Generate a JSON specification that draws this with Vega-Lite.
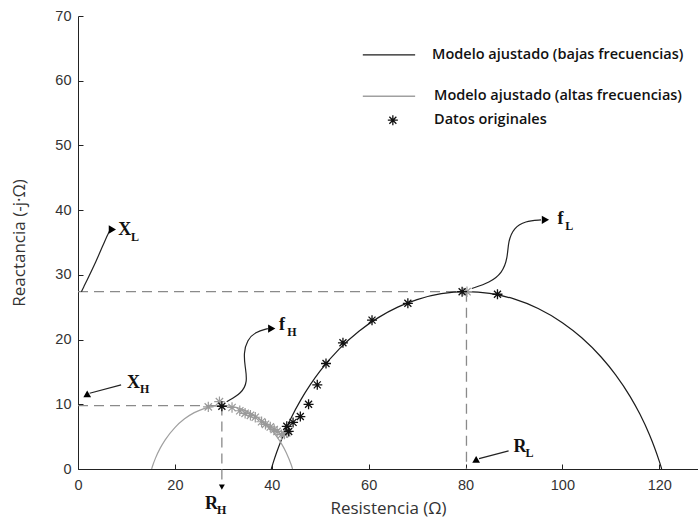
{
  "$schema": "https://vega.github.io/schema/vega-lite/v6.json",
  "width": 620,
  "height": 453,
  "autosize": {"type": "none"},
  "padding": {"left": 78, "top": 16, "right": 0, "bottom": 58},
  "background": "white",
  "datasets": {
    "modelos": [
      {"serie": "bajas", "x": 39.9, "y": 0},
      {"serie": "bajas", "x": 40.3, "y": 0.98},
      {"serie": "bajas", "x": 41, "y": 2.55},
      {"serie": "bajas", "x": 42, "y": 4.53},
      {"serie": "bajas", "x": 44, "y": 7.89},
      {"serie": "bajas", "x": 46, "y": 10.68},
      {"serie": "bajas", "x": 48, "y": 13.07},
      {"serie": "bajas", "x": 50, "y": 15.15},
      {"serie": "bajas", "x": 54, "y": 18.59},
      {"serie": "bajas", "x": 58, "y": 21.28},
      {"serie": "bajas", "x": 62, "y": 23.39},
      {"serie": "bajas", "x": 66, "y": 25.01},
      {"serie": "bajas", "x": 70, "y": 26.18},
      {"serie": "bajas", "x": 75, "y": 27.09},
      {"serie": "bajas", "x": 80.2, "y": 27.4},
      {"serie": "bajas", "x": 85, "y": 27.13},
      {"serie": "bajas", "x": 90, "y": 26.28},
      {"serie": "bajas", "x": 95, "y": 24.8},
      {"serie": "bajas", "x": 100, "y": 22.61},
      {"serie": "bajas", "x": 104, "y": 20.28},
      {"serie": "bajas", "x": 108, "y": 17.31},
      {"serie": "bajas", "x": 111, "y": 14.55},
      {"serie": "bajas", "x": 114, "y": 11.19},
      {"serie": "bajas", "x": 116, "y": 8.49},
      {"serie": "bajas", "x": 118, "y": 5.26},
      {"serie": "bajas", "x": 119, "y": 3.37},
      {"serie": "bajas", "x": 120, "y": 1.22},
      {"serie": "bajas", "x": 120.2, "y": 0.75},
      {"serie": "bajas", "x": 120.5, "y": 0},
      {"serie": "altas", "x": 15.2, "y": 0},
      {"serie": "altas", "x": 15.5, "y": 0.69},
      {"serie": "altas", "x": 16, "y": 1.68},
      {"serie": "altas", "x": 17, "y": 3.26},
      {"serie": "altas", "x": 18, "y": 4.51},
      {"serie": "altas", "x": 20, "y": 6.4},
      {"serie": "altas", "x": 22, "y": 7.75},
      {"serie": "altas", "x": 24, "y": 8.71},
      {"serie": "altas", "x": 26, "y": 9.34},
      {"serie": "altas", "x": 28, "y": 9.7},
      {"serie": "altas", "x": 29.75, "y": 9.8},
      {"serie": "altas", "x": 32, "y": 9.64},
      {"serie": "altas", "x": 34, "y": 9.21},
      {"serie": "altas", "x": 36, "y": 8.5},
      {"serie": "altas", "x": 38, "y": 7.46},
      {"serie": "altas", "x": 40, "y": 5.99},
      {"serie": "altas", "x": 41, "y": 5.05},
      {"serie": "altas", "x": 42, "y": 3.92},
      {"serie": "altas", "x": 43, "y": 2.52},
      {"serie": "altas", "x": 44, "y": 0.69},
      {"serie": "altas", "x": 44.3, "y": 0}
    ],
    "guias": [
      {"x": 0, "y": 27.4, "x2": 80.2, "y2": 27.4},
      {"x": 80.2, "y": 27.4, "x2": 80.2, "y2": 0},
      {"x": 0, "y": 9.8, "x2": 29.7, "y2": 9.8},
      {"x": 29.7, "y": 9.8, "x2": 29.7, "y2": -2.3}
    ],
    "datos_originales": [
      {"x": 29.7, "y": 9.7},
      {"x": 43.1, "y": 6.6},
      {"x": 43.5, "y": 5.8},
      {"x": 44.4, "y": 7.2},
      {"x": 45.9, "y": 8.1},
      {"x": 47.6, "y": 10.0},
      {"x": 49.4, "y": 13.0},
      {"x": 51.2, "y": 16.3},
      {"x": 54.7, "y": 19.5},
      {"x": 60.7, "y": 23.0},
      {"x": 68.1, "y": 25.6},
      {"x": 79.3, "y": 27.4},
      {"x": 86.6, "y": 27.0}
    ],
    "datos_altas": [
      {"x": 26.9, "y": 9.6},
      {"x": 29.2, "y": 10.4},
      {"x": 31.8, "y": 9.5},
      {"x": 33.4, "y": 9.0},
      {"x": 34.5, "y": 8.6},
      {"x": 35.6, "y": 8.3},
      {"x": 36.6, "y": 8.0},
      {"x": 37.9, "y": 7.3},
      {"x": 38.7, "y": 6.9},
      {"x": 39.7, "y": 6.5},
      {"x": 40.5, "y": 6.1},
      {"x": 41.1, "y": 5.8},
      {"x": 42.0, "y": 5.3},
      {"x": 42.6, "y": 5.4},
      {"x": 43.1, "y": 5.6},
      {"x": 80.3, "y": 27.4}
    ],
    "flechas": [
      {"id": "fL", "i": 1, "x": 81.3, "y": 27.9},
      {"id": "fL", "i": 2, "x": 85.0, "y": 28.8},
      {"id": "fL", "i": 3, "x": 87.6, "y": 30.3},
      {"id": "fL", "i": 4, "x": 88.7, "y": 32.6},
      {"id": "fL", "i": 5, "x": 88.8, "y": 35.2},
      {"id": "fL", "i": 6, "x": 90.0, "y": 37.3},
      {"id": "fL", "i": 7, "x": 92.3, "y": 38.3},
      {"id": "fL", "i": 8, "x": 95.6, "y": 38.5},
      {"id": "fH", "i": 1, "x": 30.7, "y": 10.4},
      {"id": "fH", "i": 2, "x": 33.8, "y": 11.7},
      {"id": "fH", "i": 3, "x": 35.0, "y": 13.5},
      {"id": "fH", "i": 4, "x": 34.5, "y": 15.8},
      {"id": "fH", "i": 5, "x": 34.2, "y": 17.9},
      {"id": "fH", "i": 6, "x": 34.9, "y": 19.9},
      {"id": "fH", "i": 7, "x": 36.6, "y": 21.2},
      {"id": "fH", "i": 8, "x": 39.2, "y": 21.7},
      {"id": "XL", "i": 1, "x": 0.7, "y": 27.4},
      {"id": "XL", "i": 2, "x": 3.9, "y": 32.3},
      {"id": "XL", "i": 3, "x": 5.6, "y": 35.4},
      {"id": "XL", "i": 4, "x": 6.6, "y": 36.9},
      {"id": "XH", "i": 1, "x": 2.4, "y": 11.7},
      {"id": "XH", "i": 2, "x": 8.9, "y": 13.0},
      {"id": "RL", "i": 1, "x": 82.8, "y": 1.6},
      {"id": "RL", "i": 2, "x": 88.9, "y": 2.8}
    ],
    "puntas_derecha": [
      {"x": 96.5, "y": 38.5},
      {"x": 40.0, "y": 21.7},
      {"x": 7.1, "y": 37.0}
    ],
    "puntas_arriba": [
      {"x": 1.9, "y": 11.6},
      {"x": 82.2, "y": 1.5}
    ],
    "puntas_abajo": [
      {"x": 29.7, "y": -2.8}
    ],
    "letras": [
      {"t": "X", "x": 8.3, "y": 36.9},
      {"t": "f", "x": 99.0, "y": 38.6},
      {"t": "f", "x": 41.5, "y": 22.3},
      {"t": "X", "x": 10.1, "y": 13.3},
      {"t": "R", "x": 89.9, "y": 3.4},
      {"t": "R", "x": 26.2, "y": -5.4}
    ],
    "subindices": [
      {"t": "L", "x": 10.95, "y": 35.9},
      {"t": "L", "x": 100.6, "y": 37.5},
      {"t": "H", "x": 43.2, "y": 21.2},
      {"t": "H", "x": 12.8, "y": 12.3},
      {"t": "L", "x": 92.4, "y": 2.4},
      {"t": "H", "x": 28.7, "y": -6.4}
    ],
    "leyenda_lineas": [
      {"serie": "bajas", "x": 58.8, "x2": 69.6, "y": 64.0},
      {"serie": "altas", "x": 58.8, "x2": 69.6, "y": 57.6}
    ],
    "leyenda_simbolo": [
      {"x": 65.0, "y": 53.9}
    ],
    "leyenda_textos": [
      {"texto": "Modelo ajustado (bajas frecuencias)", "x": 73.1, "y": 64.0},
      {"texto": "Modelo ajustado (altas frecuencias)", "x": 73.5, "y": 57.6},
      {"texto": "Datos originales", "x": 73.5, "y": 53.9}
    ]
  },
  "encoding": {
    "x": {
      "field": "x",
      "type": "quantitative",
      "scale": {"domain": [0, 128], "nice": false, "zero": false},
      "axis": {
        "title": "Resistencia (Ω)",
        "values": [0, 20, 40, 60, 80, 100, 120],
        "labelPadding": 14,
        "titlePadding": 9
      }
    },
    "y": {
      "field": "y",
      "type": "quantitative",
      "scale": {"domain": [0, 70], "nice": false, "zero": false},
      "axis": {
        "title": "Reactancia (-j·Ω)",
        "values": [0, 10, 20, 30, 40, 50, 60, 70],
        "labelPadding": 12,
        "titlePadding": 26
      }
    }
  },
  "layer": [
    {
      "data": {"name": "guias"},
      "mark": {"type": "rule", "color": "#8a8a8a", "strokeWidth": 1.3, "strokeDash": [10, 6]},
      "encoding": {"x2": {"field": "x2"}, "y2": {"field": "y2"}}
    },
    {
      "data": {"name": "modelos"},
      "mark": {"type": "line", "interpolate": "monotone", "strokeWidth": 1.2},
      "encoding": {
        "color": {
          "field": "serie",
          "type": "nominal",
          "scale": {"domain": ["bajas", "altas"], "range": ["#1c1c1c", "#a0a0a0"]},
          "legend": null
        }
      }
    },
    {
      "data": {"name": "datos_altas"},
      "mark": {
        "type": "point",
        "shape": "M-1,0H1M0,-1V1M-0.7,-0.7L0.7,0.7M-0.7,0.7L0.7,-0.7",
        "filled": false,
        "size": 110,
        "stroke": "#9a9a9a",
        "strokeWidth": 1.2,
        "opacity": 1
      },
      "encoding": {}
    },
    {
      "data": {"name": "datos_originales"},
      "mark": {
        "type": "point",
        "shape": "M-1,0H1M0,-1V1M-0.7,-0.7L0.7,0.7M-0.7,0.7L0.7,-0.7",
        "filled": false,
        "size": 100,
        "stroke": "#111111",
        "strokeWidth": 1.3,
        "opacity": 1
      },
      "encoding": {}
    },
    {
      "data": {"name": "flechas"},
      "mark": {"type": "line", "interpolate": "basis", "color": "#222222", "strokeWidth": 1.2},
      "encoding": {
        "detail": {"field": "id", "type": "nominal"},
        "order": {"field": "i", "type": "quantitative"}
      }
    },
    {
      "data": {"name": "puntas_derecha"},
      "mark": {"type": "point", "shape": "triangle-right", "filled": true, "size": 70, "color": "#000000", "opacity": 1},
      "encoding": {}
    },
    {
      "data": {"name": "puntas_arriba"},
      "mark": {"type": "point", "shape": "triangle-up", "filled": true, "size": 60, "color": "#000000", "opacity": 1},
      "encoding": {}
    },
    {
      "data": {"name": "puntas_abajo"},
      "mark": {"type": "point", "shape": "triangle-down", "filled": true, "size": 35, "color": "#000000", "opacity": 1},
      "encoding": {}
    },
    {
      "data": {"name": "letras"},
      "mark": {"type": "text", "align": "left", "baseline": "middle", "font": "Liberation Serif", "fontWeight": "bold", "fontSize": 18, "color": "#111111"},
      "encoding": {"text": {"field": "t"}}
    },
    {
      "data": {"name": "subindices"},
      "mark": {"type": "text", "align": "left", "baseline": "middle", "font": "Liberation Serif", "fontWeight": "bold", "fontSize": 12, "color": "#111111"},
      "encoding": {"text": {"field": "t"}}
    },
    {
      "data": {"name": "leyenda_lineas"},
      "mark": {"type": "rule", "strokeWidth": 1.3},
      "encoding": {
        "x2": {"field": "x2"},
        "color": {"field": "serie", "type": "nominal", "legend": null}
      }
    },
    {
      "data": {"name": "leyenda_simbolo"},
      "mark": {
        "type": "point",
        "shape": "M-1,0H1M0,-1V1M-0.7,-0.7L0.7,0.7M-0.7,0.7L0.7,-0.7",
        "filled": false,
        "size": 100,
        "stroke": "#111111",
        "strokeWidth": 1.3,
        "opacity": 1
      },
      "encoding": {}
    },
    {
      "data": {"name": "leyenda_textos"},
      "mark": {"type": "text", "align": "left", "baseline": "middle", "font": "Open Sans", "fontWeight": 600, "fontSize": 14.5, "color": "#111111"},
      "encoding": {"text": {"field": "texto"}}
    }
  ],
  "config": {
    "view": {"stroke": null},
    "axis": {
      "grid": false,
      "domainColor": "#222222",
      "domainWidth": 1,
      "tickColor": "#222222",
      "tickSize": -5,
      "tickWidth": 1,
      "labelFont": "Liberation Sans",
      "labelFontSize": 14.5,
      "labelColor": "#333333",
      "labelFlush": false,
      "labelOverlap": false,
      "titleFont": "Open Sans",
      "titleFontSize": 17,
      "titleFontWeight": "normal",
      "titleColor": "#333333"
    }
  }
}
